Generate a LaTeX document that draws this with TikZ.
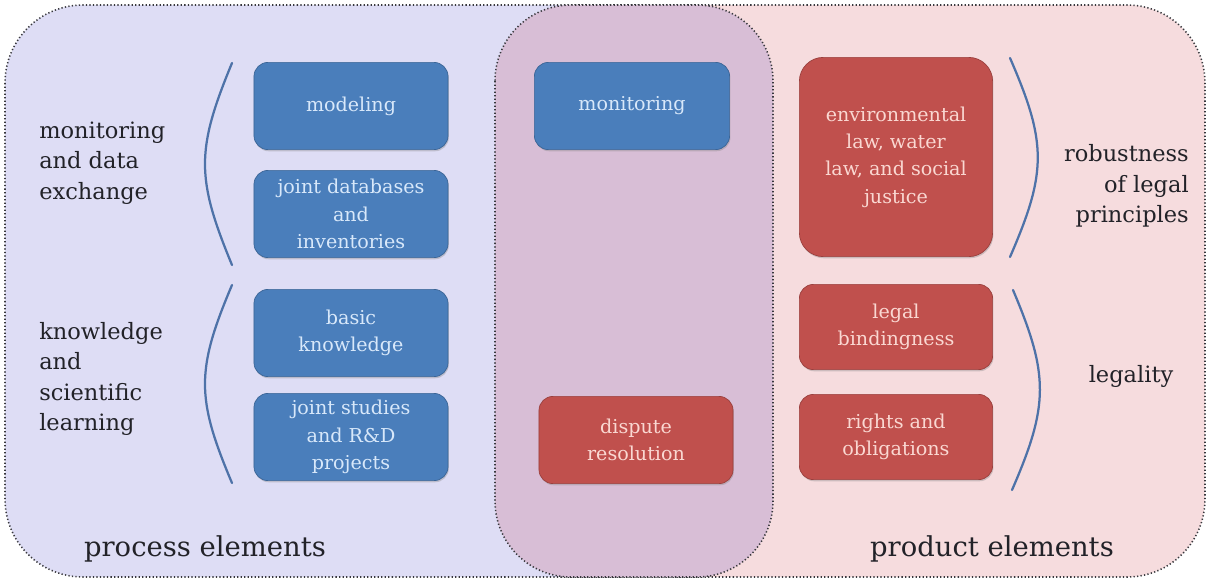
\documentclass[tikz,border=0pt]{standalone}
\usepackage{fontspec}
\setmainfont{DejaVu Serif}
\usetikzlibrary{shadows}

\definecolor{procblue}{RGB}{74,126,187}
\definecolor{prodred}{RGB}{192,80,77}
\definecolor{bgblue}{RGB}{222,221,245}
\definecolor{bgpink}{RGB}{246,220,222}
\definecolor{bgmid}{RGB}{216,190,214}
\definecolor{bracecol}{RGB}{78,114,168}
\definecolor{txtblue}{RGB}{216,232,250}
\definecolor{txtred}{RGB}{250,216,210}
\definecolor{inkgray}{RGB}{34,34,40}

\begin{document}
\begin{tikzpicture}[x=0.025cm,y=-0.025cm,
    procbox/.style = {rectangle, rounded corners=10pt, fill=procblue,
        draw=procblue!80!black, line width=0.5pt, text=txtblue, align=center,
        font=\fontsize{13.6}{19.5}\selectfont, minimum width=4.85cm,
        minimum height=2.18cm, inner sep=2pt,
        drop shadow={shadow xshift=0.6pt, shadow yshift=-1.2pt, opacity=0.35}},
    prodbox/.style = {procbox, fill=prodred, draw=prodred!80!black,
        text=txtred, minimum width=4.83cm},
    brace/.style = {draw=bracecol, line width=1.6pt, line cap=round},
    grouplabel/.style = {text=inkgray, font=\fontsize{16}{21.5}\selectfont,
        inner sep=0pt},
    sidelabel/.style = {text=inkgray, font=\fontsize{19.5}{24}\selectfont,
        inner sep=0pt},
    region/.style = {draw=inkgray!90, line width=1.1pt,
        dash pattern=on 0.9pt off 1.6pt}
  ]
  \useasboundingbox (0,0) rectangle (1208,579);

  % two coloured halves of the outer frame
  \begin{scope}
    \clip[rounded corners=1.95cm] (5,5) rectangle (1205,577);
    \fill[bgblue] (5,5) rectangle (634,577);
    \fill[bgpink] (634,5) rectangle (1205,577);
  \end{scope}
  \draw[region, rounded corners=1.95cm] (5,5) rectangle (1205,577);

  % shared elements in the middle
  \draw[region, fill=bgmid, rounded corners=1.9cm] (495,5) rectangle (773,577);

  % process side
  \foreach \y/\txt [count=\i] in {106/modeling,
      214/{joint databases\\and\\inventories},
      333/{basic\\knowledge},
      437/{joint studies\\and R\&D\\projects}}{
      \node[procbox] (proc-\i) at (351,\y) {\txt};
    }

  % middle
  \node[procbox, minimum width=4.88cm] (mid-1) at (632,106) {monitoring};
  \node[prodbox, minimum width=4.85cm] (mid-2) at (636,440) {dispute\\resolution};

  % product side
  \node[prodbox, rounded corners=17pt, minimum height=4.98cm]
    (prod-1) at (896,157) {environmental\\law, water\\law, and social\\justice};
  \foreach \y/\txt [count=\i from 2] in {327/{legal\\bindingness},
      437/{rights and\\obligations}}{
      \node[prodbox, minimum height=2.13cm] (prod-\i) at (896,\y) {\txt};
    }

  % brackets grouping the boxes
  \draw[brace] (232,63) .. controls (196,150) and (196,178) .. (232,265);
  \draw[brace] (232,285) .. controls (196,370) and (196,398) .. (232,483);
  \draw[brace] (1010,58) .. controls (1047,143) and (1047,172) .. (1010,257);
  \draw[brace] (1013,290) .. controls (1049,375) and (1049,405) .. (1012,490);

  % group labels
  \node[grouplabel, anchor=west, align=left] (lbl-data) at (39,163)
    {monitoring\\and data\\exchange};
  \node[grouplabel, anchor=west, align=left] (lbl-know) at (39,379)
    {knowledge\\and\\scientific\\learning};
  \node[grouplabel, anchor=east, align=right] (lbl-robust) at (1189,186)
    {robustness\\of legal\\principles};
  \node[grouplabel] (lbl-legal) at (1131,376) {legality};

  \node[sidelabel] (lbl-process) at (205,549) {process elements};
  \node[sidelabel] (lbl-product) at (992,549) {product elements};
\end{tikzpicture}
\end{document}
